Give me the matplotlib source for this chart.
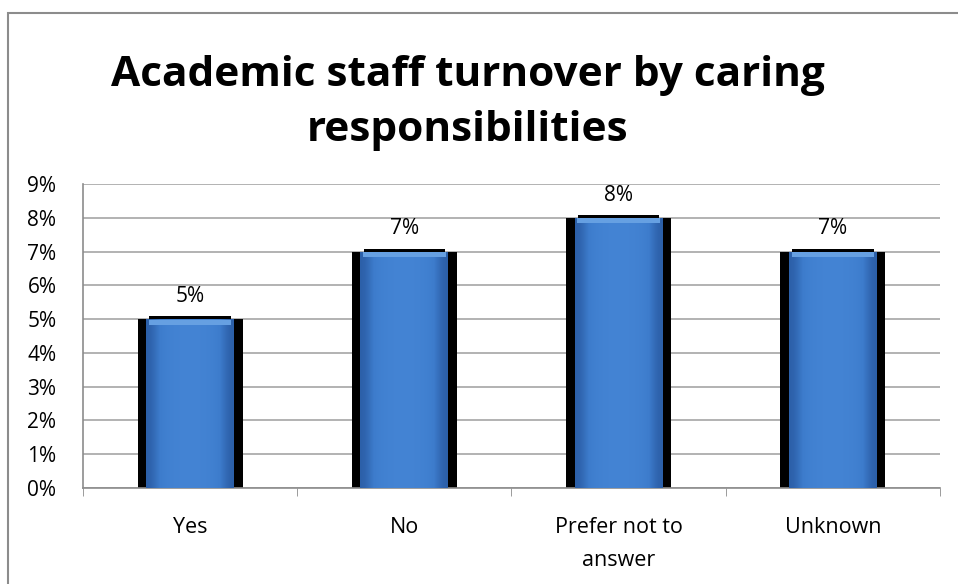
import numpy as np
import matplotlib.pyplot as plt
from matplotlib.patches import Rectangle
from matplotlib.colors import LinearSegmentedColormap

# Daten
categories = ["Yes", "No", "Prefer not to\nanswer", "Unknown"]
values = [5, 7, 8, 7]  # Prozent
labels = ["5%", "7%", "8%", "7%"]
yticks = list(range(0, 10))

plt.rcParams['font.family'] = ['Open Sans', 'DejaVu Sans']

fig = plt.figure(figsize=(9.58, 5.84), dpi=100)
ax = fig.add_axes([83 / 958, 1 - 488 / 584, 857 / 958, 304 / 584])

# Rahmen um das Diagramm (rechts und unten abgeschnitten)
fig.patches.append(Rectangle((8 / 958, -0.1), 1.1, 1 - 13 / 584 + 0.1, transform=fig.transFigure,
                             fill=False, edgecolor='#8c8c8c', linewidth=1.5))

x = np.arange(len(categories))

# Schatten (schwarz) hinter den Balken
ax.bar(x, values, width=0.49, color='black', zorder=2)
ax.bar(x, [v + 0.09 for v in values], width=0.38, color='black', zorder=2)

# Blaue Balken mit Verlauf
bars = ax.bar(x, values, width=0.41, color='#3c7acb', zorder=3)
cmap = LinearSegmentedColormap.from_list('g', ['#2c5fa8', '#3d7ccc', '#4484d4'])
grad = np.array([[0.0, 0.55, 0.8, 0.9, 0.95, 0.9, 0.8, 0.55, 0.0]])
for b in bars:
    x0, w, h = b.get_x(), b.get_width(), b.get_height()
    im = ax.imshow(grad, cmap=cmap, extent=[x0, x0 + w, 0, h], aspect='auto',
                   interpolation='bicubic', zorder=4)
    im.set_clip_path(b)
    # heller oberer Rand
    ax.bar(x0 + w / 2, 0.14, width=w * 0.94, bottom=h - 0.16, color='#66a0e2', zorder=5)

for xi, v, lab in zip(x, values, labels):
    ax.text(xi, v + 0.36, lab, ha='center', va='bottom', fontsize=15)

ax.set_xlim(-0.5, len(categories) - 0.5)
ax.set_ylim(0, 9)
ax.set_yticks(yticks)
ax.set_yticklabels([f"{t}%" for t in yticks], fontsize=15)
ax.set_xticks(x)
ax.set_xticklabels(categories, fontsize=15.5, linespacing=1.72)
ax.set_xticks(np.arange(-0.5, len(categories)), minor=True)
ax.tick_params(axis='x', which='major', length=0, pad=21)
ax.tick_params(axis='x', which='minor', length=6, color='#8c8c8c', direction='out')
ax.tick_params(axis='y', length=0, pad=40)
for t in ax.get_yticklabels():
    t.set_horizontalalignment('left')

ax.grid(axis='y', color='#a6a6a6', linewidth=1.2, zorder=0)
ax.set_axisbelow(True)
for s in ['top', 'right']:
    ax.spines[s].set_visible(False)
for s in ['left', 'bottom']:
    ax.spines[s].set_color('#8c8c8c')
    ax.spines[s].set_linewidth(1.2)

fig.text(468 / 958, 1 - 103 / 584, "Academic staff turnover by caring\nresponsibilities",
         ha='center', va='center', fontsize=30.5, fontweight='bold', linespacing=1.45)

plt.savefig('out.png', dpi=100)
